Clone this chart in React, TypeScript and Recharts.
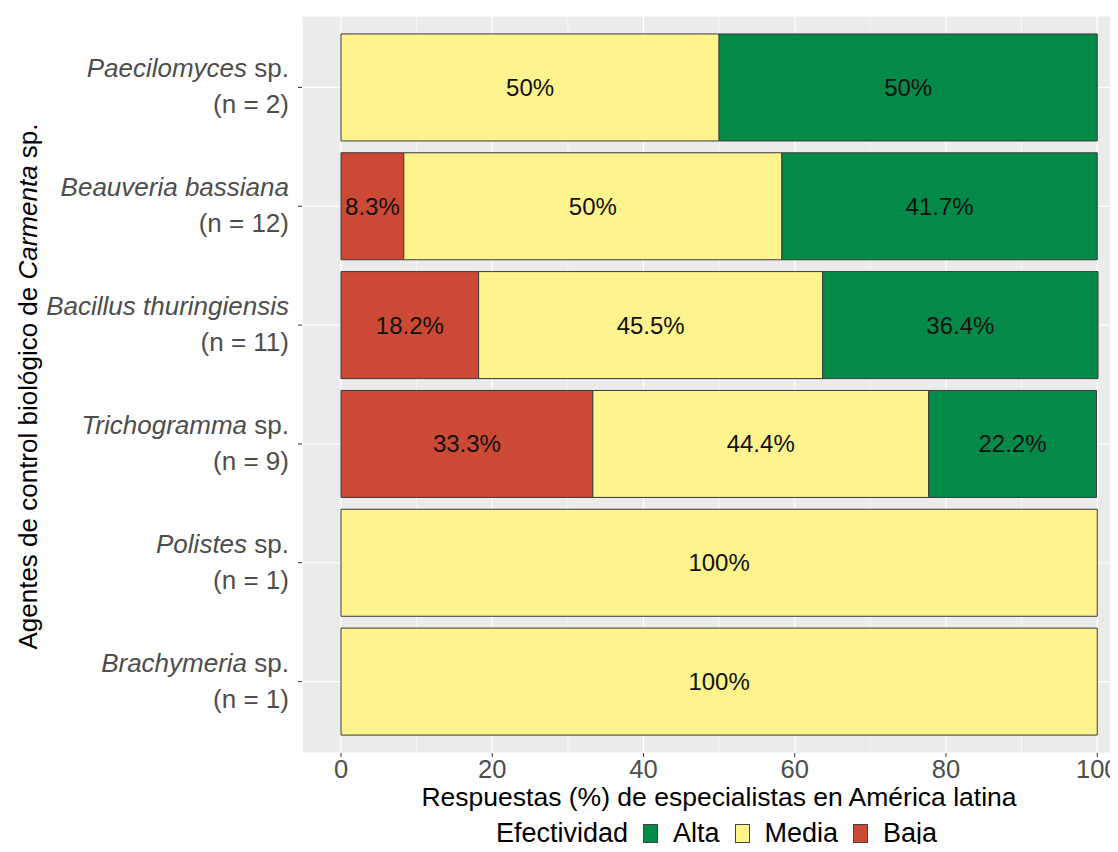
import {
  BarChart,
  Bar,
  XAxis,
  YAxis,
  CartesianGrid,
  LabelList,
  Label,
  Legend,
} from "recharts";

const agents = [
  "Paecilomyces",
  "Beauveria bassiana",
  "Bacillus thuringiensis",
  "Trichogramma",
  "Polistes",
  "Brachymeria",
];
const agentSuffix = [" sp.", "", "", " sp.", " sp.", " sp."];
const nResp = [2, 12, 11, 9, 1, 1];

const baja = [0, 8.3, 18.2, 33.3, 0, 0];
const media = [50, 50, 45.5, 44.4, 100, 100];
const alta = [50, 41.7, 36.4, 22.2, 0, 0];

const xTicks = [0, 20, 40, 60, 80, 100];
const xMinorTicks = [10, 30, 50, 70, 90];

const legendItems = [
  { key: "alta", name: "Alta", color: "#038a48" },
  { key: "media", name: "Media", color: "#fff38d" },
  { key: "baja", name: "Baja", color: "#cc4a35" },
];

const data = agents.map((agent, i) => ({
  agent,
  baja: baja[i],
  media: media[i],
  alta: alta[i],
}));

const FONT = "'Liberation Sans', Arial, Helvetica, sans-serif";
const colorOf = (k: string) => legendItems.find((l) => l.key === k)!.color;
const pct = (v: any) => (v ? `${v}%` : "");

const AgentTick = ({ x, y, payload }: any) => {
  const i = agents.indexOf(payload.value);
  return (
    <text x={x} y={y} textAnchor="end" fill="#4d4d4d" fontSize={26}>
      <tspan x={x} dy={-10}>
        <tspan fontStyle="italic">{agents[i]}</tspan>
        {agentSuffix[i]}
      </tspan>
      <tspan x={x} dy={36}>
        (n = {nResp[i]})
      </tspan>
    </text>
  );
};

const YTitle = ({ viewBox }: any) => {
  const cy = viewBox.y + viewBox.height / 2;
  return (
    <text
      transform={`translate(${viewBox.x + 37},${cy + 2}) rotate(-90)`}
      textAnchor="middle"
      fontSize={26}
      fill="#000"
    >
      Agentes de control biológico de <tspan fontStyle="italic">Carmenta</tspan> sp.
    </text>
  );
};

const LegendBox = () => (
  <div
    style={{
      display: "flex",
      alignItems: "center",
      justifyContent: "center",
      height: 40,
      paddingTop: 2,
      boxSizing: "border-box",
      fontSize: 27,
      lineHeight: "30px",
      color: "#000",
      fontFamily: FONT,
    }}
  >
    <span style={{ marginRight: 15 }}>Efectividad</span>
    {legendItems.map((it) => (
      <span key={it.key} style={{ display: "flex", alignItems: "center" }}>
        <span
          style={{
            display: "inline-block",
            width: 15,
            height: 19,
            boxSizing: "border-box",
            background: it.color,
            border: "1px solid #444",
            marginRight: 15,
          }}
        />
        <span style={{ marginRight: 15 }}>{it.name}</span>
      </span>
    ))}
  </div>
);

export default function App() {
  return (
    <div
      style={{
        width: 1118,
        height: 852,
        overflow: "hidden",
        margin: -8,
        fontFamily: FONT,
        background: "#fff",
      }}
    >
      <BarChart
        width={1136}
        height={852}
        data={data}
        layout="vertical"
        margin={{ top: 16, right: 0, bottom: 0, left: 0 }}
        barCategoryGap="5%"
      >
        <CartesianGrid fill="#ebebeb" stroke="#ffffff" strokeWidth={1.2} />
        <CartesianGrid
          horizontal={false}
          verticalValues={xMinorTicks}
          stroke="#ffffff"
          strokeWidth={0.6}
        />
        <XAxis
          type="number"
          domain={[0, 100]}
          ticks={xTicks}
          padding={{ left: 39, right: 38 }}
          axisLine={false}
          tickSize={4}
          tickMargin={3}
          tickLine={{ stroke: "#333333" }}
          tick={{ fill: "#4d4d4d", fontSize: 25.5 }}
          height={59}
        >
          <Label
            value="Respuestas (%) de especialistas en América latina"
            position="insideBottom"
            offset={6}
            fill="#000"
            fontSize={26.5}
          />
        </XAxis>
        <YAxis
          type="category"
          dataKey="agent"
          width={302}
          padding={{ top: 12, bottom: 12 }}
          axisLine={false}
          tickSize={4}
          tickMargin={9}
          tickLine={{ stroke: "#333333" }}
          tick={<AgentTick />}
          interval={0}
        >
          <Label content={<YTitle />} />
        </YAxis>
        <Legend
          verticalAlign="bottom"
          content={<LegendBox />}
          wrapperStyle={{ left: 306, width: 836 }}
        />
        {(["baja", "media", "alta"] as const).map((k) => (
          <Bar
            key={k}
            dataKey={k}
            stackId="a"
            fill={colorOf(k)}
            stroke="#3a3a3a"
            strokeWidth={1}
            isAnimationActive={false}
          >
            <LabelList
              dataKey={k}
              position="center"
              formatter={pct}
              fill="#111"
              fontSize={24}
            />
          </Bar>
        ))}
      </BarChart>
    </div>
  );
}
